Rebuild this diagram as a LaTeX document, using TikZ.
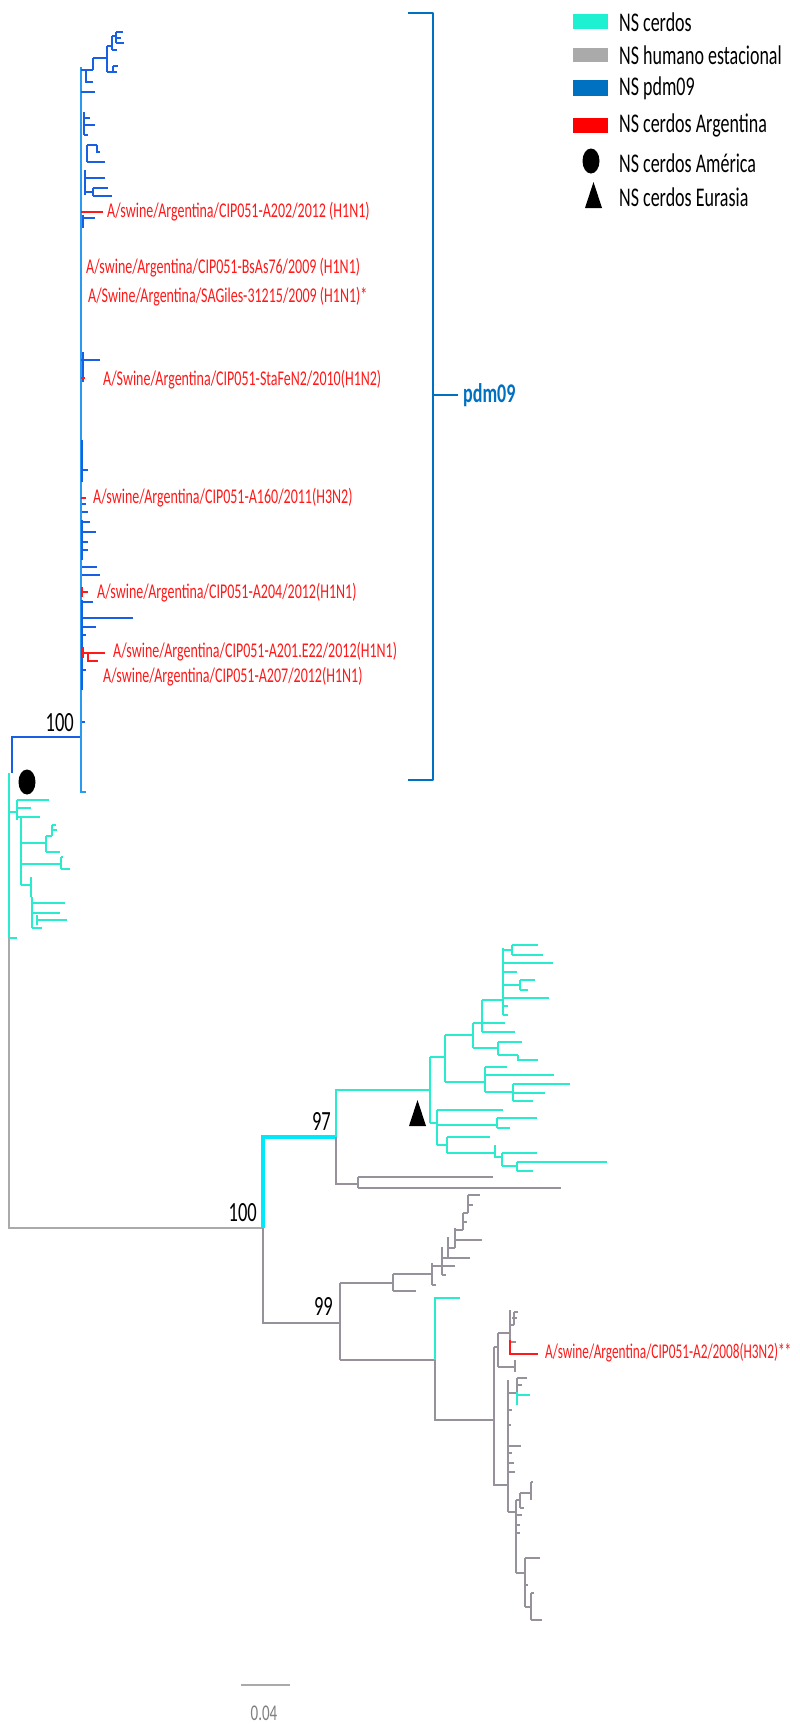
\documentclass[tikz,border=0pt]{standalone}
\usepackage{fontspec}
\setmainfont{Carlito}
\definecolor{cyT}{RGB}{40,236,205}
\definecolor{cyB}{RGB}{0,232,250}
\definecolor{pdmL}{RGB}{40,155,240}
\definecolor{pdmD}{RGB}{25,95,230}
\definecolor{grT}{RGB}{150,145,155}
\definecolor{grR}{RGB}{170,170,170}
\definecolor{rdT}{RGB}{255,25,25}
\definecolor{legC}{RGB}{30,240,210}
\definecolor{legG}{RGB}{170,170,170}
\definecolor{legB}{RGB}{0,112,192}
\definecolor{legR}{RGB}{255,0,0}
\newcommand{\st}[1]{\scalebox{1}[1.5]{#1}}
\tikzset{
  cy/.style={draw=cyT,line width=2pt},
  cyk/.style={draw=cyB,line width=3.5pt},
  bl/.style={draw=pdmD,line width=2pt},
  lb/.style={draw=pdmL,line width=2pt},
  gr/.style={draw=grT,line width=1.5pt},
  grr/.style={draw=grR,line width=1.8pt},
  rd/.style={draw=rdT,line width=2pt},
  lab/.style={anchor=west,inner sep=0pt,text=rdT,font=\fontsize{14}{16}\selectfont},
  boot/.style={anchor=east,inner sep=0pt,text=black,font=\fontsize{18.5}{20}\selectfont},
  legtxt/.style={anchor=west,inner sep=0pt,text=black,font=\fontsize{18}{20}\selectfont},
}
\begin{document}
\begin{tikzpicture}[x=1pt,y=-1pt,line cap=butt]
\useasboundingbox[fill=white] (0,0) rectangle (800,1724);

% ---------- root ----------
\draw[bl,line width=2.5pt] (12,773) -- (12,737) -- (81,737);
\draw[cy] (9,773) -- (9,938) -- (17,938);
\draw[grr] (9,938) -- (9,1228) -- (263,1228);

% ---------- America clade (cyan) ----------
\draw[cy] (9,812) -- (17,812);
\draw[cy] (17,800) -- (17,820);
\draw[cy] (17,800) -- (49,800);
\draw[cy] (17,808) -- (31,808);
\draw[cy] (17,817) -- (40,817);
\draw[cy] (21,817) -- (21,885);
\draw[cy] (21,843) -- (46,843);
\draw[cy] (46,836) -- (46,852);
\draw[cy] (46,836) -- (52,836);
\draw[cy] (52,825) -- (52,836);
\draw[cy] (52,825) -- (56,825);
\draw[cy] (52,830) -- (57,830);
\draw[cy] (46,852) -- (60,852);
\draw[cy] (21,864) -- (61,864);
\draw[cy] (61,857) -- (61,869);
\draw[cy] (61,869) -- (70,869);
\draw[cy] (61,857) -- (63,857);
\draw[cy] (21,885) -- (31,885);
\draw[cy] (31,877) -- (31,897);
\draw[cy] (32,897) -- (32,928);
\draw[cy] (32,903) -- (65,903);
\draw[cy] (32,913) -- (60,913);
\draw[cy] (37,915) -- (37,925);
\draw[cy] (37,920) -- (67,920);
\draw[cy] (32,928) -- (42,928);
\fill[black] (27,782) ellipse [x radius=8.5pt, y radius=12.5pt];

% ---------- pdm09 clade ----------
\draw[lb] (81,67) -- (81,792) -- (86,792);
% top cluster
\draw[bl] (81,70) -- (93,70);
\draw[bl] (86,70) -- (86,82) -- (93,82);
\draw[bl] (93,58) -- (93,70);
\draw[bl] (93,58) -- (107,58);
\draw[bl] (107,46) -- (107,72);
\draw[bl] (107,72) -- (117,72);
\draw[bl] (113,66) -- (113,72);
\draw[bl] (113,66) -- (118,66);
\draw[bl] (107,46) -- (112,46);
\draw[bl] (112,36) -- (112,50);
\draw[bl] (112,50) -- (117,50);
\draw[bl] (112,36) -- (116,36);
\draw[bl] (116,32) -- (116,43);
\draw[bl] (116,32) -- (123,32);
\draw[bl] (116,38) -- (121,38);
\draw[bl] (116,43) -- (124,43);
% along spine
\draw[bl] (81,92) -- (95,92);
\draw[bl] (84,112) -- (84,135);
\draw[bl] (84,118) -- (90,118);
\draw[bl] (84,125) -- (95,125);
\draw[bl] (84,135) -- (88,135);
\draw[bl] (87,145) -- (87,162);
\draw[bl] (87,145) -- (97,145);
\draw[bl] (97,145) -- (97,152) -- (100,152);
\draw[bl] (87,162) -- (105,162);
\draw[bl] (85,170) -- (85,195);
\draw[bl] (85,178) -- (105,178);
\draw[bl] (85,192) -- (93,192);
\draw[bl] (93,188) -- (93,196);
\draw[bl] (93,188) -- (108,188);
\draw[bl] (93,196) -- (112,196);
\draw[rd] (81,212) -- (103,212);
\draw[bl] (83,215) -- (83,228);
\draw[bl] (83,218) -- (95,218);
\draw[bl] (83,352) -- (83,382);
\draw[bl] (81,360) -- (100,360);
\draw[rd] (81,378) -- (85,378);
\draw[bl] (82,440) -- (82,482);
\draw[bl] (82,470) -- (88,470);
\draw[rd] (81,498) -- (86,498);
\draw[bl] (82,504) -- (86,504);
\draw[bl] (82,512) -- (88,512);
\draw[bl] (82,520) -- (82,560);
\draw[bl] (82,522) -- (90,522);
\draw[bl] (82,532) -- (96,532);
\draw[bl] (82,542) -- (88,542);
\draw[bl] (82,550) -- (88,550);
\draw[bl] (82,567) -- (97,567);
\draw[bl] (82,575) -- (100,575);
\draw[bl] (82,600) -- (82,690);
\draw[rd] (82,587) -- (82,597);
\draw[rd] (82,592) -- (88,592);
\draw[bl] (82,602) -- (93,602);
\draw[bl] (82,618) -- (133,618);
\draw[bl] (82,627) -- (96,627);
\draw[bl] (82,635) -- (86,635);
\draw[rd] (83,647) -- (83,658);
\draw[rd] (83,653) -- (105,653);
\draw[rd] (88,653) -- (88,661) -- (98,661);
\draw[bl] (82,670) -- (86,670);
\draw[bl] (82,722) -- (85,722);

% ---------- labels pdm09 ----------
\node[lab] (l1) at (107,212) {\st{A/swine/Argentina/CIP051-A202/2012 (H1N1)}};
\node[lab] (l2) at (86,268) {\st{A/swine/Argentina/CIP051-BsAs76/2009 (H1N1)}};
\node[lab] (l3) at (88,297) {\st{A/Swine/Argentina/SAGiles-31215/2009 (H1N1)*}};
\node[lab] (l4) at (103,380) {\st{A/Swine/Argentina/CIP051-StaFeN2/2010(H1N2)}};
\node[lab] (l5) at (93,498) {\st{A/swine/Argentina/CIP051-A160/2011(H3N2)}};
\node[lab] (l6) at (97,593) {\st{A/swine/Argentina/CIP051-A204/2012(H1N1)}};
\node[lab] (l7) at (113,652) {\st{A/swine/Argentina/CIP051-A201.E22/2012(H1N1)}};
\node[lab] (l8) at (103,677) {\st{A/swine/Argentina/CIP051-A207/2012(H1N1)}};

% ---------- bootstrap ----------
\node[boot] (b1) at (74,723) {\st{100}};
\node[boot] (b2) at (331,1121) {\st{97}};
\node[boot] (b3) at (257,1213) {\st{100}};
\node[boot] (b4) at (333,1306) {\st{99}};

% ---------- bracket ----------
\draw[draw=legB,line width=2.8pt,line join=round] (408,13) -- (433,13) -- (433,780) -- (408,780);
\draw[draw=legB,line width=2.8pt] (433,395) -- (458,395);
\node[anchor=west,inner sep=0pt,text=legB,font=\fontsize{18}{20}\selectfont\bfseries] (pdm) at (463,395) {\st{pdm09}};

% ---------- Eurasia / human clade ----------
\draw[cyk] (263,1228) -- (263,1137) -- (336,1137);
\draw[cy] (336,1137) -- (336,1090) -- (430,1090);
\draw[gr] (336,1137) -- (336,1184) -- (358,1184);
\draw[gr] (358,1177) -- (358,1188);
\draw[gr] (358,1177) -- (493,1177);
\draw[gr] (358,1188) -- (561,1188);
% Eurasia cyan
\draw[cy] (430,1057) -- (430,1123);
\draw[cy] (430,1057) -- (445,1057);
\draw[cy] (445,1035) -- (445,1082);
\draw[cy] (445,1035) -- (473,1035);
\draw[cy] (473,1023) -- (473,1048);
\draw[cy] (473,1023) -- (505,1023);
\draw[cy] (482,1000) -- (482,1032);
\draw[cy] (482,1000) -- (503,1000);
\draw[cy] (503,948) -- (503,1015);
\draw[cy] (503,950) -- (512,950);
\draw[cy] (512,945) -- (512,955);
\draw[cy] (512,945) -- (538,945);
\draw[cy] (512,955) -- (543,955);
\draw[cy] (503,963) -- (553,963);
\draw[cy] (503,972) -- (517,972);
\draw[cy] (503,985) -- (520,985);
\draw[cy] (520,980) -- (520,990);
\draw[cy] (520,980) -- (535,980);
\draw[cy] (520,990) -- (528,990);
\draw[cy] (503,998) -- (549,998);
\draw[cy] (503,1006) -- (508,1006);
\draw[cy] (503,1015) -- (508,1015);
\draw[cy] (482,1032) -- (515,1032);
\draw[cy] (473,1048) -- (498,1048);
\draw[cy] (498,1042) -- (498,1055);
\draw[cy] (498,1042) -- (522,1042);
\draw[cy] (498,1055) -- (518,1055);
\draw[cy] (518,1055) -- (518,1060) -- (538,1060);
\draw[cy] (445,1082) -- (485,1082);
\draw[cy] (485,1067) -- (485,1092);
\draw[cy] (485,1067) -- (507,1067);
\draw[cy] (485,1075) -- (554,1075);
\draw[cy] (485,1092) -- (513,1092);
\draw[cy] (513,1084) -- (513,1101);
\draw[cy] (513,1084) -- (570,1084);
\draw[cy] (513,1093) -- (545,1093);
\draw[cy] (513,1101) -- (533,1101);
\draw[cy] (430,1123) -- (437,1123);
\draw[cy] (437,1110) -- (437,1145);
\draw[cy] (437,1110) -- (503,1110);
\draw[cy] (437,1125) -- (497,1125);
\draw[cy] (497,1118) -- (497,1128);
\draw[cy] (497,1118) -- (537,1118);
\draw[cy] (497,1128) -- (510,1128);
\draw[cy] (437,1145) -- (447,1145);
\draw[cy] (447,1137) -- (447,1153);
\draw[cy] (447,1137) -- (490,1137);
\draw[cy] (447,1153) -- (495,1153);
\draw[cy] (495,1145) -- (495,1157) -- (502,1157);
\draw[cy] (502,1153) -- (502,1166);
\draw[cy] (502,1153) -- (537,1153);
\draw[cy] (502,1166) -- (517,1166);
\draw[cy] (517,1162) -- (517,1171);
\draw[cy] (517,1162) -- (607,1162);
\draw[cy] (517,1171) -- (533,1171);
\fill[black] (409,1126) -- (426,1126) -- (417.5,1100) -- cycle;

% human grey clade
\draw[gr] (263,1228) -- (263,1323) -- (340,1323);
\draw[gr] (340,1283) -- (340,1360);
\draw[gr] (340,1283) -- (393,1283);
\draw[gr] (393,1274) -- (393,1291);
\draw[gr] (393,1291) -- (416,1291);
\draw[gr] (393,1274) -- (432,1274);
\draw[gr] (432,1263) -- (432,1285);
\draw[gr] (432,1285) -- (436,1285);
\draw[gr] (432,1266) -- (442,1266);
\draw[gr] (442,1247) -- (442,1275);
\draw[gr] (442,1266) -- (455,1266);
\draw[gr] (442,1275) -- (446,1275);
\draw[gr] (442,1258) -- (448,1258);
\draw[gr] (448,1237) -- (448,1258);
\draw[gr] (448,1258) -- (470,1258);
\draw[gr] (448,1248) -- (455,1248);
\draw[gr] (455,1228) -- (455,1248);
\draw[gr] (455,1240) -- (482,1240);
\draw[gr] (455,1230) -- (463,1230);
\draw[gr] (463,1213) -- (463,1230);
\draw[gr] (463,1222) -- (467,1222);
\draw[gr] (463,1213) -- (468,1213);
\draw[gr] (468,1195) -- (468,1213);
\draw[gr] (468,1195) -- (480,1195);
\draw[gr] (468,1205) -- (473,1205);
\draw[gr] (340,1360) -- (435,1360);
\draw[cy] (435,1360) -- (435,1298) -- (460,1298);
\draw[gr] (435,1360) -- (435,1420) -- (494,1420);
\draw[gr] (494,1347) -- (494,1485) -- (508,1485);
\draw[gr] (494,1347) -- (498,1347);
\draw[gr] (498,1333) -- (498,1367);
\draw[gr] (498,1333) -- (510,1333);
\draw[gr] (498,1367) -- (515,1367);
\draw[gr] (515,1360) -- (515,1372);
\draw[gr] (510,1310) -- (510,1342);
\draw[gr] (510,1325) -- (514,1325);
\draw[gr] (514,1312) -- (514,1325);
\draw[gr] (514,1312) -- (518,1312);
\draw[gr] (512,1318) -- (517,1318);
\draw[gr] (510,1342) -- (516,1342);
\draw[rd] (510,1340) -- (510,1354) -- (538,1354);
\node[anchor=west,inner sep=0pt,text=rdT,font=\fontsize{14}{16}\selectfont] (l9) at (545,1353) {\scalebox{0.95}[1.5]{A/swine/Argentina/CIP051-A2/2008(H3N2)**}};
\draw[gr] (508,1380) -- (508,1512);
\draw[gr] (508,1393) -- (517,1393);
\draw[gr] (517,1378) -- (517,1393);
\draw[gr] (517,1378) -- (527,1378);
\draw[gr] (517,1385) -- (522,1385);
\draw[cy] (517,1392) -- (517,1405);
\draw[cy] (517,1395) -- (530,1395);
\draw[gr] (508,1410) -- (512,1410);
\draw[gr] (508,1425) -- (511,1425);
\draw[gr] (508,1446) -- (521,1446);
\draw[gr] (508,1453) -- (512,1453);
\draw[gr] (508,1463) -- (514,1463);
\draw[gr] (508,1472) -- (515,1472);
\draw[gr] (508,1512) -- (516,1512);
\draw[gr] (516,1500) -- (516,1573);
\draw[gr] (516,1500) -- (520,1500);
\draw[gr] (520,1493) -- (520,1508);
\draw[gr] (520,1493) -- (531,1493);
\draw[gr] (531,1482) -- (531,1500);
\draw[gr] (531,1482) -- (533,1482);
\draw[gr] (520,1508) -- (524,1508);
\draw[gr] (516,1515) -- (522,1515);
\draw[gr] (516,1525) -- (520,1525);
\draw[gr] (516,1533) -- (520,1533);
\draw[gr] (516,1573) -- (525,1573);
\draw[gr] (525,1558) -- (525,1607);
\draw[gr] (525,1558) -- (540,1558);
\draw[gr] (525,1585) -- (528,1585);
\draw[gr] (525,1607) -- (531,1607);
\draw[gr] (531,1593) -- (531,1620);
\draw[gr] (531,1593) -- (534,1593);
\draw[gr] (531,1620) -- (542,1620);

% ---------- scale bar ----------
\coordinate (sbA) at (241,1685);
\coordinate (sbB) at (290,1685);
\draw[draw=grR,line width=1.8pt] (sbA) -- (sbB);
\node[inner sep=0pt,text=gray,font=\fontsize{15}{17}\selectfont] (sb) at (264,1713) {\st{0.04}};

% ---------- legend ----------
\fill[legC] (573,14) rectangle (608,29);
\fill[legG] (573,48) rectangle (608,62);
\fill[legB] (573,80) rectangle (608,96);
\fill[legR] (573,118) rectangle (608,133);
\fill[black] (591,161) ellipse [x radius=8.5pt, y radius=12.5pt];
\fill[black] (585,208) -- (602,208) -- (593.5,182) -- cycle;
\node[legtxt] (g1) at (619,22) {\st{NS cerdos}};
\node[legtxt] (g2) at (619,55) {\st{NS humano estacional}};
\node[legtxt] (g3) at (619,88) {\st{NS pdm09}};
\node[legtxt] (g4) at (619,125) {\st{NS cerdos Argentina}};
\node[legtxt] (g5) at (619,163) {\st{NS cerdos América}};
\node[legtxt] (g6) at (619,197) {\st{NS cerdos Eurasia}};
\end{tikzpicture}
\end{document}
